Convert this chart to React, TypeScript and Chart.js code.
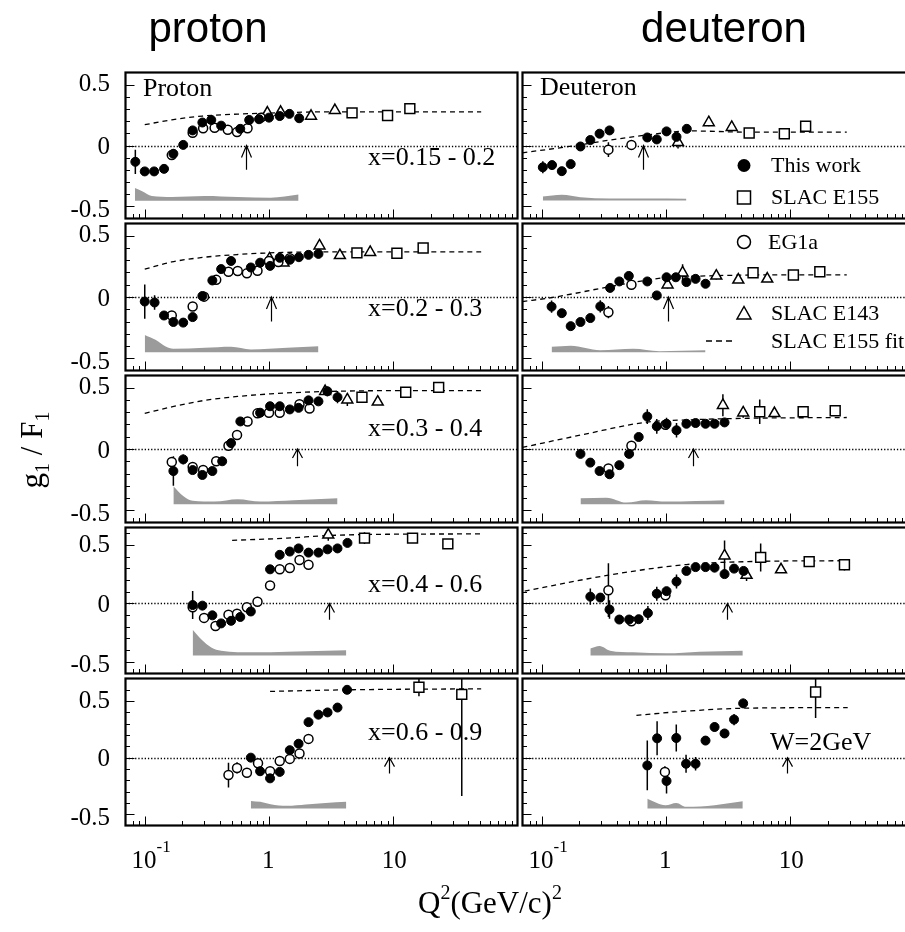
import React, { useEffect, useRef } from 'react';
import { Chart, registerables } from 'chart.js';

Chart.register(...registerables);

// ---------------- data: each point = [Q2 (GeV/c)^2, g1/F1, error] ----------------
// proton x = 0.15 - 0.2
const p1Work = [[0.084,-0.134,0.10],[0.10,-0.213,0],[0.119,-0.213,0],[0.143,-0.192,0],[0.170,-0.068,0.04],[0.204,0.005,0],[0.243,0.124,0],[0.291,0.189,0],[0.343,0.21,0],[0.412,0.163,0],[0.587,0.137,0],[0.693,0.21,0],[0.832,0.216,0],[1.0,0.229,0],[1.22,0.242,0],[1.46,0.26,0],[1.75,0.224,0]];
const p1EG1a = [[0.165,-0.079,0],[0.243,0.105,0],[0.295,0.142,0],[0.365,0.145,0],[0.466,0.129,0],[0.553,0.11,0],[0.672,0.142,0],[0.859,0.229,0]];
const p1E143 = [[0.97,0.268,0.03],[1.24,0.274,0.03],[2.18,0.242,0],[3.39,0.289,0]];
const p1E155 = [[4.66,0.268,0],[9.0,0.247,0],[13.6,0.303,0]];
const p1FitQ2 = [0.1,0.165,0.291,0.56,1,2.57,8.7,51];
const p1FitVal = [0.171,0.211,0.242,0.258,0.266,0.276,0.276,0.276];
const p1BandQ2 = [0.0833,0.0953,0.114,0.165,0.304,0.56,1.03,1.73];
const p1BandTop = [-0.35,-0.376,-0.416,-0.424,-0.416,-0.424,-0.429,-0.403];
const p1BandBase = -0.455;

// deuteron x = 0.15 - 0.2
const d1Work = [[0.102,-0.179,0.05],[0.121,-0.161,0.03],[0.145,-0.211,0],[0.171,-0.153,0],[0.205,-0.008,0],[0.246,0.045,0],[0.292,0.097,0],[0.351,0.124,0],[0.707,0.066,0],[0.843,0.05,0],[1.01,0.116,0],[1.215,0.071,0.03],[1.47,0.137,0]];
const d1EG1a = [[0.344,-0.034,0.06],[0.527,0.005,0]];
const d1E143 = [[1.25,0.026,0.05],[2.21,0.189,0.03],[3.38,0.15,0]];
const d1E155 = [[4.67,0.103,0],[8.96,0.097,0],[13.3,0.158,0]];
const d1FitQ2 = [0.0698,0.161,0.401,1.0,1.53,4.58,28.5];
const d1FitVal = [-0.06,-0.01,0.053,0.105,0.12,0.11,0.11];
const d1BandQ2 = [0.102,0.145,0.205,0.351,0.707,1.46];
const d1BandTop = [-0.42,-0.405,-0.425,-0.435,-0.435,-0.437];
const d1BandBase = -0.452;

// proton x = 0.2 - 0.3
const p2Work = [[0.1,-0.037,0.14],[0.120,-0.045,0.06],[0.143,-0.151,0],[0.170,-0.204,0],[0.204,-0.209,0],[0.243,-0.164,0],[0.291,0.008,0],[0.350,0.135,0],[0.412,0.228,0],[0.495,0.294,0],[0.714,0.241,0],[0.848,0.28,0],[1.02,0.254,0],[1.22,0.32,0],[1.47,0.304,0],[1.74,0.325,0],[2.08,0.344,0],[2.50,0.352,0]];
const p2EG1a = [[0.165,-0.151,0],[0.243,-0.077,0],[0.30,0.003,0],[0.376,0.14,0],[0.472,0.206,0],[0.56,0.212,0],[0.664,0.193,0],[0.808,0.214,0],[1.0,0.294,0],[1.19,0.286,0],[1.47,0.317,0]];
const p2E143 = [[1.01,0.312,0],[1.31,0.278,0],[2.55,0.418,0.03],[3.72,0.339,0],[6.52,0.365,0]];
const p2E155 = [[5.1,0.36,0],[10.7,0.357,0],[17.4,0.40,0]];
const p2FitQ2 = [0.1,0.165,0.304,0.56,1.0,2.57,51];
const p2FitVal = [0.228,0.286,0.325,0.347,0.36,0.368,0.368];
const p2BandQ2 = [0.1,0.122,0.146,0.170,0.304,0.495,0.714,1.40,2.5];
const p2BandTop = [-0.31,-0.349,-0.402,-0.423,-0.415,-0.407,-0.428,-0.415,-0.402];
const p2BandBase = -0.45;

// deuteron x = 0.2 - 0.3
const d2Work = [[0.120,-0.079,0.05],[0.145,-0.132,0.03],[0.171,-0.238,0],[0.205,-0.204,0],[0.246,-0.172,0],[0.296,-0.077,0.05],[0.355,0.074,0],[0.421,0.127,0],[0.502,0.172,0],[0.707,0.127,0.03],[0.843,0.013,0],[1.01,0.161,0],[1.20,0.161,0],[1.46,0.122,0],[1.73,0.148,0],[2.08,0.108,0]];
const d2EG1a = [[0.344,-0.124,0.05],[0.527,0.10,0]];
const d2E143 = [[1.03,0.10,0.03],[1.36,0.198,0.07],[2.54,0.172,0.03],[3.82,0.14,0],[6.53,0.148,0]];
const d2E155 = [[5.02,0.198,0],[10.6,0.18,0],[17.3,0.206,0]];
const d2FitQ2 = [0.0698,0.12,0.401,1.01,2.08,6.2,28.5];
const d2FitVal = [-0.037,-0.005,0.095,0.159,0.172,0.18,0.18];
const d2BandQ2 = [0.12,0.171,0.296,0.544,0.885,2.08];
const d2BandTop = [-0.407,-0.397,-0.434,-0.423,-0.442,-0.434];
const d2BandBase = -0.45;

// proton x = 0.3 - 0.4
const p3Work = [[0.170,-0.18,0.12],[0.204,-0.085,0.04],[0.243,-0.172,0],[0.291,-0.212,0],[0.350,-0.18,0],[0.42,-0.10,0],[0.495,0.048,0],[0.588,0.225,0],[0.848,0.296,0],[1.02,0.349,0],[1.22,0.349,0],[1.47,0.323,0],[1.73,0.336,0],[2.08,0.397,0],[2.5,0.389,0],[2.95,0.471,0.04],[3.56,0.423,0.05]];
const p3EG1a = [[0.165,-0.106,0],[0.243,-0.146,0],[0.295,-0.172,0],[0.376,-0.10,0],[0.472,0.026,0],[0.553,0.114,0],[0.672,0.225,0],[0.808,0.291,0],[1.0,0.296,0],[1.22,0.296,0],[1.76,0.365,0],[2.12,0.331,0]];
const p3E143 = [[2.83,0.471,0],[4.27,0.402,0.05],[7.5,0.384,0]];
const p3E155 = [[5.6,0.423,0],[12.6,0.463,0],[23.2,0.503,0]];
const p3FitQ2 = [0.1,0.165,0.304,0.56,1.03,2.57,8.7,51];
const p3FitVal = [0.291,0.344,0.397,0.429,0.45,0.468,0.476,0.476];
const p3BandQ2 = [0.170,0.204,0.243,0.365,0.56,0.855,1.58,3.56];
const p3BandTop = [-0.304,-0.384,-0.423,-0.429,-0.41,-0.429,-0.418,-0.402];
const p3BandBase = -0.45;

// deuteron x = 0.3 - 0.4
const d3Work = [[0.205,-0.04,0.03],[0.246,-0.111,0],[0.292,-0.18,0],[0.351,-0.206,0.03],[0.421,-0.132,0],[0.505,-0.04,0.03],[0.603,0.098,0],[0.707,0.265,0.06],[0.843,0.185,0.06],[1.01,0.206,0.05],[1.215,0.153,0.06],[1.46,0.206,0],[1.73,0.212,0],[2.08,0.206,0],[2.46,0.206,0],[2.96,0.217,0]];
const d3EG1a = [[0.344,-0.159,0],[0.527,0.026,0],[0.99,0.198,0]];
const d3E143 = [[2.87,0.357,0.09],[4.18,0.296,0.04],[7.46,0.291,0]];
const d3E155 = [[5.68,0.304,0.1],[12.7,0.304,0.03],[23,0.312,0.02]];
const d3FitQ2 = [0.0698,0.218,0.707,1.53,4.58,28.5];
const d3FitVal = [0.013,0.119,0.22,0.238,0.251,0.257];
const d3BandQ2 = [0.205,0.332,0.48,0.69,1.01,2.96];
const d3BandTop = [-0.402,-0.397,-0.437,-0.418,-0.429,-0.418];
const d3BandBase = -0.45;

// proton x = 0.4 - 0.6
const p4Work = [[0.243,-0.014,0.12],[0.291,-0.019,0.03],[0.350,-0.102,0],[0.412,-0.171,0],[0.495,-0.149,0],[0.587,-0.116,0],[0.714,-0.069,0],[1.02,0.292,0],[1.22,0.416,0],[1.47,0.444,0],[1.73,0.471,0],[2.08,0.435,0],[2.5,0.435,0],[2.96,0.463,0],[3.56,0.471,0],[4.28,0.518,0]];
const p4EG1a = [[0.243,-0.033,0],[0.30,-0.124,0],[0.371,-0.193,0],[0.472,-0.096,0],[0.553,-0.088,0],[0.664,-0.033,0],[0.808,0.014,0],[1.02,0.154,0],[1.22,0.292,0],[1.47,0.303,0],[1.76,0.372,0],[2.08,0.331,0]];
const p4E143 = [[3.0,0.587,0.05]];
const p4E155 = [[5.87,0.559,0.05],[14.3,0.559,0],[27.5,0.51,0]];
const p4FitQ2 = [0.505,1.40,3.0,8.74,51];
const p4FitVal = [0.54,0.559,0.581,0.592,0.595];
const p4BandQ2 = [0.243,0.286,0.343,0.412,0.76,1.40,4.19];
const p4BandTop = [-0.226,-0.309,-0.377,-0.405,-0.419,-0.413,-0.40];
const p4BandBase = -0.446;

// deuteron x = 0.4 - 0.6
const d4Work = [[0.246,0.058,0.07],[0.296,0.05,0.03],[0.351,-0.052,0.08],[0.421,-0.138,0],[0.505,-0.138,0],[0.603,-0.135,0],[0.715,-0.083,0.06],[0.843,0.083,0.06],[1.01,0.105,0.03],[1.215,0.187,0.06],[1.46,0.278,0.03],[1.73,0.311,0],[2.08,0.311,0],[2.46,0.306,0],[2.96,0.251,0],[3.53,0.298,0],[4.21,0.278,0.03]];
const d4EG1a = [[0.344,0.113,0.23],[0.527,-0.152,0],[0.99,0.069,0]];
const d4E143 = [[2.96,0.408,0.13],[4.45,0.242,0.05],[8.43,0.289,0]];
const d4E155 = [[5.78,0.394,0.12],[14.2,0.358,0.03],[27.3,0.331,0.05]];
const d4FitQ2 = [0.0729,0.344,1.46,4.58,28.5];
const d4FitVal = [0.105,0.242,0.333,0.358,0.366];
const d4BandQ2 = [0.246,0.292,0.355,0.544,1.01,1.86,4.15];
const d4BandTop = [-0.386,-0.364,-0.405,-0.419,-0.427,-0.413,-0.405];
const d4BandBase = -0.446;

// proton x = 0.6 - 0.9
const p5Work = [[0.714,0.0,0],[0.848,-0.12,0.03],[1.02,-0.183,0],[1.22,-0.126,0],[1.47,0.066,0],[1.73,0.123,0],[2.08,0.314,0],[2.5,0.38,0],[2.96,0.40,0],[3.56,0.443,0],[4.25,0.60,0]];
const p5EG1a = [[0.472,-0.154,0.11],[0.553,-0.091,0.05],[0.664,-0.134,0],[0.816,-0.049,0],[1.02,-0.12,0],[1.22,-0.029,0],[1.47,-0.011,0],[1.76,0.037,0],[2.08,0.166,0]];
const p5E143 = [];
const p5E155 = [[16.1,0.623,0.08],[35.6,0.56,0.9]];
const p5FitQ2 = [1.02,4.25,51];
const p5FitVal = [0.586,0.6,0.609];
const p5BandQ2 = [0.714,0.85,1.03,1.40,1.98,2.85,4.19];
const p5BandTop = [-0.383,-0.391,-0.411,-0.426,-0.414,-0.40,-0.391];
const p5BandBase = -0.449;

// deuteron x = 0.6 - 0.9
const d5Work = [[0.707,-0.069,0.22],[0.848,0.171,0.15],[1.01,-0.206,0.11],[1.21,0.174,0.12],[1.45,-0.054,0.08],[1.73,-0.054,0.06],[2.08,0.151,0.04],[2.46,0.271,0.04],[2.96,0.214,0.04],[3.53,0.337,0.05],[4.18,0.48,0.04]];
const d5EG1a = [[0.98,-0.126,0.05]];
const d5E143 = [];
const d5E155 = [[16.0,0.58,0.23]];
const d5FitQ2 = [0.578,1.36,4.18,29];
const d5FitVal = [0.374,0.409,0.437,0.443];
const d5BandQ2 = [0.707,0.99,1.21,1.45,2.46,4.15];
const d5BandTop = [-0.363,-0.42,-0.40,-0.434,-0.42,-0.386];
const d5BandBase = -0.449;

// W = 2 GeV arrows (Q2 position) per row
const arrowQ2Proton = [0.65, 1.03, 1.68, 3.05, 9.3];
const arrowQ2Deuteron = [0.65, 1.03, 1.66, 3.1, 9.4];
const arrowLow = [-0.2, -0.2, -0.14, -0.14, -0.14];

// labels
const panelBinLabels = ['x=0.15 - 0.2', 'x=0.2 - 0.3', 'x=0.3 - 0.4', 'x=0.4 - 0.6', 'x=0.6 - 0.9'];
const yTickValues = [0.5, 0, -0.5];
const yTickLabels = ['0.5', '0', '-0.5'];
const legendLabels = ['This work', 'SLAC E155', 'EG1a', 'SLAC E143', 'SLAC E155 fit'];

// ---------------- layout ----------------
const COL_X = [123, 520];
const COL_W = 397;
const ROW_Y = [70, 221, 373, 525, 676];
const ROW_H = [151, 152, 152, 151, 152];
const Y_MIN = -0.6;
const ROW_YMAX = [0.6, 0.6, 0.6, 0.65, 0.7];
const X_MIN = 0.07;
const X_MAX = 100;
const PAD = 6;
const HEAD = [12, 12, 9, 9, 9];
const BAND_COLOR = '#9b9b9b';
const SERIF = '"Liberation Serif", "Times New Roman", serif';
const SANS = '"Liberation Sans", Arial, sans-serif';

const PANELS = [
  [p1Work, p1EG1a, p1E143, p1E155, p1FitQ2, p1FitVal, p1BandQ2, p1BandTop, p1BandBase],
  [d1Work, d1EG1a, d1E143, d1E155, d1FitQ2, d1FitVal, d1BandQ2, d1BandTop, d1BandBase],
  [p2Work, p2EG1a, p2E143, p2E155, p2FitQ2, p2FitVal, p2BandQ2, p2BandTop, p2BandBase],
  [d2Work, d2EG1a, d2E143, d2E155, d2FitQ2, d2FitVal, d2BandQ2, d2BandTop, d2BandBase],
  [p3Work, p3EG1a, p3E143, p3E155, p3FitQ2, p3FitVal, p3BandQ2, p3BandTop, p3BandBase],
  [d3Work, d3EG1a, d3E143, d3E155, d3FitQ2, d3FitVal, d3BandQ2, d3BandTop, d3BandBase],
  [p4Work, p4EG1a, p4E143, p4E155, p4FitQ2, p4FitVal, p4BandQ2, p4BandTop, p4BandBase],
  [d4Work, d4EG1a, d4E143, d4E155, d4FitQ2, d4FitVal, d4BandQ2, d4BandTop, d4BandBase],
  [p5Work, p5EG1a, p5E143, p5E155, p5FitQ2, p5FitVal, p5BandQ2, p5BandTop, p5BandBase],
  [d5Work, d5EG1a, d5E143, d5E155, d5FitQ2, d5FitVal, d5BandQ2, d5BandTop, d5BandBase],
];

const decorPlugin = {
  id: 'decor',
  beforeDatasetsDraw(chart: any) {
    const o = chart.options.plugins.decor;
    const { ctx, chartArea: a } = chart;
    const xs = chart.scales.x;
    const ys = chart.scales.y;
    ctx.save();
    ctx.beginPath();
    ctx.rect(a.left, a.top, a.right - a.left, a.bottom - a.top);
    ctx.clip();
    ctx.strokeStyle = '#000';
    // zero line (dotted)
    ctx.lineWidth = 1.3;
    ctx.setLineDash([1.3, 1.9]);
    const y0 = Math.round(ys.getPixelForValue(0)) + 0.5;
    ctx.beginPath();
    ctx.moveTo(a.left, y0);
    ctx.lineTo(a.right, y0);
    ctx.stroke();
    ctx.setLineDash([]);
    // error bars
    ctx.lineWidth = 1.5;
    chart.data.datasets.forEach((ds: any) => {
      if (!ds.errs) return;
      ds.data.forEach((pt: any, i: number) => {
        const e = ds.errs[i];
        if (!e) return;
        const px = xs.getPixelForValue(pt.x);
        ctx.beginPath();
        ctx.moveTo(px, ys.getPixelForValue(pt.y - e));
        ctx.lineTo(px, ys.getPixelForValue(pt.y + e));
        ctx.stroke();
      });
    });
    // W = 2 GeV arrow
    const ax = Math.round(xs.getPixelForValue(o.arrowQ2)) + 0.5;
    const tip = ys.getPixelForValue(0);
    const bot = ys.getPixelForValue(o.arrowLow);
    ctx.lineWidth = 1.2;
    ctx.beginPath();
    ctx.moveTo(ax, bot);
    ctx.lineTo(ax, tip);
    ctx.moveTo(ax - 5, tip + o.head);
    ctx.lineTo(ax, tip);
    ctx.lineTo(ax + 5, tip + o.head);
    ctx.stroke();
    ctx.restore();
  },
  afterDraw(chart: any) {
    const { ctx, chartArea: a } = chart;
    const xs = chart.scales.x;
    const ys = chart.scales.y;
    ctx.save();
    ctx.strokeStyle = '#000';
    ctx.lineWidth = 1;
    ctx.beginPath();
    for (let k = -9; k <= 9; k++) {
      const v = k / 10;
      if (v <= ys.min + 1e-6 || v >= ys.max - 1e-6) continue;
      const py = Math.round(ys.getPixelForValue(v)) + 0.5;
      const len = k % 5 === 0 ? 9 : 4.5;
      ctx.moveTo(a.left, py);
      ctx.lineTo(a.left + len, py);
    }
    for (let e = -2; e <= 2; e++) {
      for (let m = 1; m <= 9; m++) {
        const v = m * Math.pow(10, e);
        if (v <= xs.min * 1.0001 || v >= xs.max * 0.9999) continue;
        const px = Math.round(xs.getPixelForValue(v)) + 0.5;
        const len = m === 1 ? 9 : 4.5;
        ctx.moveTo(px, a.bottom);
        ctx.lineTo(px, a.bottom - len);
      }
    }
    ctx.stroke();
    ctx.lineWidth = 2.2;
    ctx.strokeRect(a.left, a.top, a.right - a.left, a.bottom - a.top);
    ctx.restore();
  },
};

const toPts = (arr: number[][]) => arr.map((p) => ({ x: p[0], y: p[1] }));
const toErrs = (arr: number[][]) => arr.map((p) => p[2]);

function buildConfig(idx: number) {
  const row = Math.floor(idx / 2);
  const col = idx % 2;
  const [work, eg1a, e143, e155, fitQ2, fitVal, bandQ2, bandTop, bandBase] = PANELS[idx] as any;
  const marker = (style: string, r: number, fill: string, bw: number, order: number, arr: number[][]) => ({
    data: toPts(arr),
    errs: toErrs(arr),
    showLine: false,
    pointStyle: style,
    pointRadius: r,
    pointBackgroundColor: fill,
    pointBorderColor: '#000',
    pointBorderWidth: bw,
    order,
  });
  return {
    type: 'line',
    data: {
      datasets: [
        marker('circle', 4.5, '#000', 1, 0, work),
        marker('circle', 4.5, '#fff', 1.5, 1, eg1a),
        marker('triangle', 6.3, '#fff', 1.5, 2, e143),
        marker('rect', 7, '#fff', 1.5, 3, e155),
        {
          data: fitQ2.map((q: number, i: number) => ({ x: q, y: fitVal[i] })),
          showLine: true,
          borderColor: '#000',
          borderWidth: 1.3,
          borderDash: [5, 4],
          pointRadius: 0,
          cubicInterpolationMode: 'monotone',
          fill: false,
          order: 4,
        },
        {
          data: bandQ2.map((q: number, i: number) => ({ x: q, y: bandTop[i] })),
          showLine: true,
          borderColor: 'rgba(0,0,0,0)',
          borderWidth: 0,
          backgroundColor: BAND_COLOR,
          pointRadius: 0,
          cubicInterpolationMode: 'monotone',
          fill: { value: bandBase },
          order: 5,
        },
      ],
    },
    options: {
      responsive: false,
      animation: false,
      events: [],
      layout: { padding: PAD },
      plugins: {
        legend: { display: false },
        tooltip: { enabled: false },
        decor: {
          arrowQ2: col === 0 ? arrowQ2Proton[row] : arrowQ2Deuteron[row],
          arrowLow: arrowLow[row],
          head: HEAD[row],
        },
      },
      scales: {
        x: { type: 'logarithmic', min: X_MIN, max: X_MAX, display: false },
        y: { type: 'linear', min: Y_MIN, max: ROW_YMAX[row], display: false },
      },
    },
    plugins: [decorPlugin],
  };
}

function Panel({ idx }: { idx: number }) {
  const ref = useRef<HTMLCanvasElement>(null);
  const row = Math.floor(idx / 2);
  const col = idx % 2;
  const w = COL_W + 2 * PAD;
  const h = ROW_H[row] + 2 * PAD;
  useEffect(() => {
    const chart = new Chart(ref.current as HTMLCanvasElement, buildConfig(idx) as any);
    return () => chart.destroy();
  }, [idx]);
  return (
    <canvas
      ref={ref}
      width={w}
      height={h}
      style={{ position: 'absolute', left: COL_X[col] - PAD, top: ROW_Y[row] - PAD, width: w, height: h }}
    />
  );
}

const yPix = (row: number, v: number) =>
  ROW_Y[row] + ((ROW_YMAX[row] - v) / (ROW_YMAX[row] - Y_MIN)) * ROW_H[row];
const xPix = (col: number, q: number) =>
  COL_X[col] + ((Math.log10(q) - Math.log10(X_MIN)) / (Math.log10(X_MAX) - Math.log10(X_MIN))) * COL_W;

function Overlay() {
  const texts: any[] = [];
  for (let r = 0; r < 5; r++) {
    yTickValues.forEach((v, i) => {
      texts.push(
        <text key={`yl${r}-${i}`} x={110} y={yPix(r, v) + 8.5} textAnchor="end" fontSize={25}>
          {yTickLabels[i]}
        </text>
      );
    });
    texts.push(
      <text key={`bin${r}`} x={368} y={[165, 316, 436, 592, 740][r]} fontSize={26}>
        {panelBinLabels[r]}
      </text>
    );
  }
  for (let c = 0; c < 2; c++) {
    texts.push(
      <text key={`xl${c}a`} x={xPix(c, 0.1) - 11} y={868} fontSize={25}>
        10<tspan dy={-16} fontSize={17}>-1</tspan>
      </text>
    );
    texts.push(
      <text key={`xl${c}b`} x={xPix(c, 1)} y={868} fontSize={25} textAnchor="middle">1</text>
    );
    texts.push(
      <text key={`xl${c}c`} x={xPix(c, 10)} y={868} fontSize={25} textAnchor="middle">10</text>
    );
  }
  return (
    <svg
      width={905}
      height={932}
      style={{ position: 'absolute', left: 0, top: 0, pointerEvents: 'none' }}
      fontFamily={SERIF}
      fill="#000"
    >
      <text x={208} y={42} fontFamily={SANS} fontSize={42} textAnchor="middle">proton</text>
      <text x={724} y={42} fontFamily={SANS} fontSize={42} textAnchor="middle">deuteron</text>
      <text x={143} y={96} fontSize={26}>Proton</text>
      <text x={540} y={95} fontSize={26}>Deuteron</text>
      <text x={770} y={750} fontSize={26}>W=2GeV</text>
      {texts}
      {/* legend */}
      <circle cx={744} cy={165.5} r={6.5} fill="#000" />
      <text x={771} y={172} fontSize={22}>{legendLabels[0]}</text>
      <rect x={737.5} y={191} width={13} height={13} fill="none" stroke="#000" strokeWidth={1.5} />
      <text x={771} y={204} fontSize={22}>{legendLabels[1]}</text>
      <circle cx={744} cy={242} r={6.5} fill="none" stroke="#000" strokeWidth={1.5} />
      <text x={768} y={249} fontSize={22}>{legendLabels[2]}</text>
      <polygon points="744,306.5 737,319 751,319" fill="none" stroke="#000" strokeWidth={1.5} />
      <text x={771} y={320} fontSize={22}>{legendLabels[3]}</text>
      <line x1={706} y1={341} x2={734} y2={341} stroke="#000" strokeWidth={1.3} strokeDasharray="6 4" />
      <text x={771} y={348} fontSize={22}>{legendLabels[4]}</text>
      {/* axis titles */}
      <text x={418} y={913} fontSize={31}>
        Q<tspan dy={-14} fontSize={20}>2</tspan>
        <tspan dy={14}>(GeV/c)</tspan>
        <tspan dy={-14} fontSize={20}>2</tspan>
      </text>
      <text transform="translate(42,450) rotate(-90)" textAnchor="middle" fontSize={31}>
        g<tspan dy={7} fontSize={20}>1</tspan>
        <tspan dy={-7}> / F</tspan>
        <tspan dy={7} fontSize={20}>1</tspan>
      </text>
    </svg>
  );
}

export default function App() {
  return (
    <div
      style={{
        position: 'fixed',
        left: 0,
        top: 0,
        width: 905,
        height: 932,
        overflow: 'hidden',
        background: '#fff',
      }}
    >
      {Array.from({ length: 10 }, (_, i) => (
        <Panel key={i} idx={i} />
      ))}
      <Overlay />
    </div>
  );
}
